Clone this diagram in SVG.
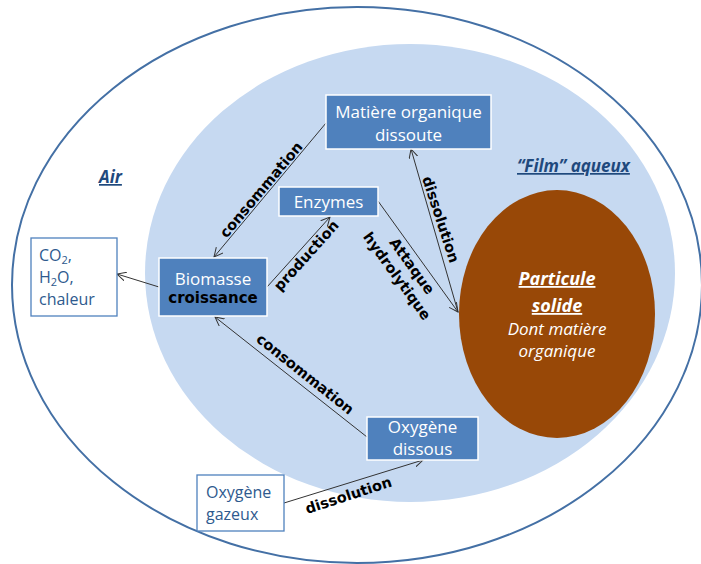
<svg xmlns="http://www.w3.org/2000/svg" width="701" height="564" viewBox="0 0 701 564">
<style>
.box{fill:#4f81bd;stroke:#ffffff;stroke-width:1.5}
.wbox{fill:#ffffff;stroke:#4f81bd;stroke-width:1.3}
.nt{font-family:"Open Sans","Liberation Sans",sans-serif;font-size:17px;fill:#ffffff;text-anchor:middle}
.bt{font-family:"Open Sans","Liberation Sans",sans-serif;font-size:16px;fill:#2e5a8e}
.lbl{font-family:"DejaVu Sans",sans-serif;font-weight:bold;font-size:14.5px;fill:#000000;text-anchor:middle}
.ttl{font-family:"Open Sans","Liberation Sans",sans-serif;font-weight:bold;font-style:italic;font-size:17px;fill:#1f497d;text-decoration:underline}
.conn{stroke:#333333;stroke-width:1;fill:none}
</style>
<defs>
<marker id="arr" markerUnits="userSpaceOnUse" markerWidth="10" markerHeight="10" refX="9" refY="4.5" orient="auto" viewBox="0 0 10 9">
<path d="M0,0 L9,4.5 L0,9" fill="none" stroke="#333333" stroke-width="1"/>
</marker>
</defs>
<rect width="701" height="564" fill="#ffffff"/>
<g id="air">
<ellipse cx="357" cy="285" rx="345" ry="278" fill="none" stroke="#4470a5" stroke-width="2"/>
<text class="ttl" x="99" y="183" font-size="18">Air</text>
</g>
<g id="film">
<ellipse cx="410" cy="273" rx="265" ry="229" fill="#c6d9f1"/>
<text class="ttl" x="517" y="172">“Film” aqueux</text>
</g>
<g id="particule">
<ellipse cx="557" cy="314" rx="98" ry="124" fill="#984807"/>
<text x="557" y="285" font-family="'Open Sans','Liberation Sans',sans-serif" font-weight="bold" font-style="italic" font-size="18" fill="#ffffff" text-anchor="middle" text-decoration="underline">Particule</text>
<text x="557" y="312" font-family="'Open Sans','Liberation Sans',sans-serif" font-weight="bold" font-style="italic" font-size="18" fill="#ffffff" text-anchor="middle" text-decoration="underline">solide</text>
<text x="557" y="335" font-family="'Open Sans','Liberation Sans',sans-serif" font-style="italic" font-size="17" fill="#ffffff" text-anchor="middle">Dont matière</text>
<text x="557" y="357" font-family="'Open Sans','Liberation Sans',sans-serif" font-style="italic" font-size="17" fill="#ffffff" text-anchor="middle">organique</text>
</g>
<g id="connectors">
<path class="conn" d="M326,123 L214,257" marker-end="url(#arr)"/>
<path class="conn" d="M267,287 L330,217" marker-end="url(#arr)"/>
<path class="conn" d="M378,201 L458,312" marker-end="url(#arr)"/>
<path class="conn" d="M458,312 L411,149" marker-end="url(#arr)"/>
<path class="conn" d="M367,437 L215,317" marker-end="url(#arr)"/>
<path class="conn" d="M284,503 L423,460" marker-end="url(#arr)"/>
<path class="conn" d="M159,287 L117,274" marker-end="url(#arr)"/>
<text class="lbl" x="265" y="193" transform="rotate(-50 265 193)">consommation</text>
<text class="lbl" x="310" y="259" transform="rotate(-48 310 259)">production</text>
<text class="lbl" x="408" y="269" transform="rotate(54 408 269)">Attaque</text>
<text class="lbl" x="393" y="279" transform="rotate(54 393 279)">hydrolytique</text>
<text class="lbl" x="436" y="221" transform="rotate(72 436 221)">dissolution</text>
<text class="lbl" x="302" y="378" transform="rotate(38.5 302 378)">consommation</text>
<text class="lbl" x="350" y="500" transform="rotate(-18 350 500)">dissolution</text>
</g>
<g id="mo">
<rect class="box" x="326" y="95" width="165" height="54"/>
<text class="nt" x="408.5" y="118">Matière organique</text>
<text class="nt" x="408.5" y="141">dissoute</text>
</g>
<g id="enzymes">
<rect class="box" x="279" y="187" width="99" height="29"/>
<text class="nt" x="328.5" y="208">Enzymes</text>
</g>
<g id="biomasse">
<rect class="box" x="159" y="258" width="108" height="58"/>
<text class="nt" x="213" y="285">Biomasse</text>
<text x="213" y="303" font-family="'DejaVu Sans',sans-serif" font-weight="bold" font-size="15" fill="#000000" text-anchor="middle">croissance</text>
</g>
<g id="co2">
<rect class="wbox" x="31" y="238" width="86" height="78"/>
<text class="bt" x="39" y="261">CO<tspan font-size="11" dy="3">2</tspan><tspan dy="-3">,</tspan></text>
<text class="bt" x="39" y="283">H<tspan font-size="11" dy="3">2</tspan><tspan dy="-3">O,</tspan></text>
<text class="bt" x="39" y="305">chaleur</text>
</g>
<g id="oxdissous">
<rect class="box" x="367" y="417" width="111" height="43"/>
<text class="nt" x="422.5" y="433">Oxygène</text>
<text class="nt" x="422.5" y="455">dissous</text>
</g>
<g id="oxgazeux">
<rect class="wbox" x="197" y="475" width="87" height="56"/>
<text class="bt" x="206" y="498">Oxygène</text>
<text class="bt" x="206" y="520">gazeux</text>
</g>
</svg>
